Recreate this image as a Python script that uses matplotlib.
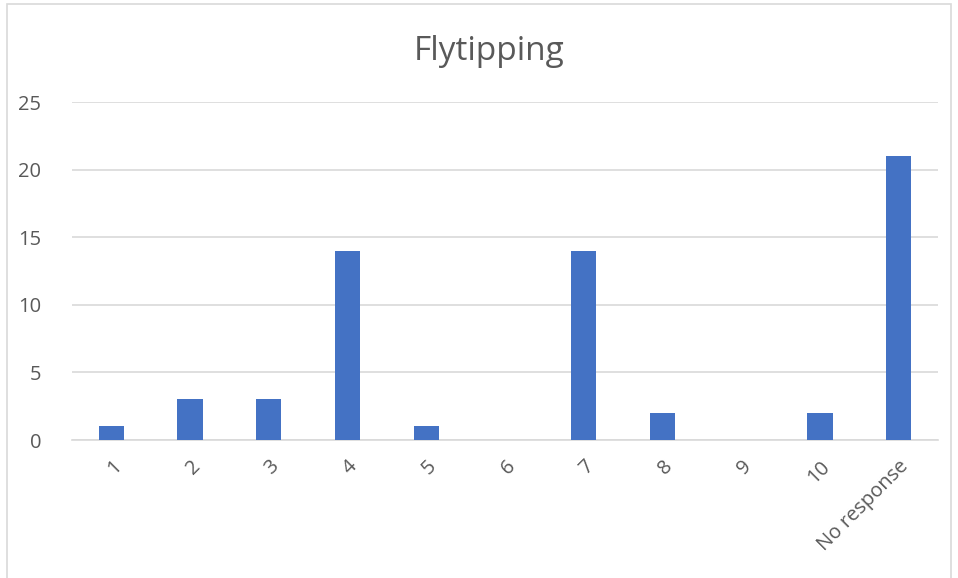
import matplotlib.pyplot as plt
from matplotlib.patches import Rectangle

# categories and counts
categories = ["1", "2", "3", "4", "5", "6", "7", "8", "9", "10", "No response"]
counts = [1, 3, 3, 14, 1, 0, 14, 2, 0, 2, 21]
yticks = [0, 5, 10, 15, 20, 25]

plt.rcParams['font.family'] = ['Open Sans', 'DejaVu Sans']
text_col = '#595959'

fig = plt.figure(figsize=(9.58, 5.78), dpi=100)
ax = fig.add_axes([72/958, 1-440/578, 866/958, (440-102)/578])

x = range(len(categories))
ax.bar(x, counts, width=0.32, color='#4472C4', zorder=3)

ax.set_xlim(-0.5, len(categories) - 0.5)
ax.set_ylim(0, 25)
ax.set_yticks(yticks)
ax.set_xticks(list(x))
ax.set_xticklabels(categories, rotation=45, ha='right', rotation_mode='anchor')

ax.grid(axis='y', color='#D9D9D9', linewidth=1.2, zorder=0)
for s in ['top', 'right', 'left']:
    ax.spines[s].set_visible(False)
ax.spines['bottom'].set_color('#D9D9D9')
ax.spines['bottom'].set_linewidth(1.2)
ax.tick_params(axis='both', length=0, colors=text_col, labelsize=14.5)
ax.tick_params(axis='y', pad=22)
ax.tick_params(axis='x', pad=12)

fig.text(489/958, 1-51/578, "Flytipping", ha='center', va='center',
         fontsize=24, color=text_col)

# outer chart border
fig.patches.append(Rectangle((7/958, -0.05), 944/958, 1.05-4/578,
                             transform=fig.transFigure, fill=False,
                             edgecolor='#D9D9D9', linewidth=1.2))

fig.savefig("out.png", dpi=100)
